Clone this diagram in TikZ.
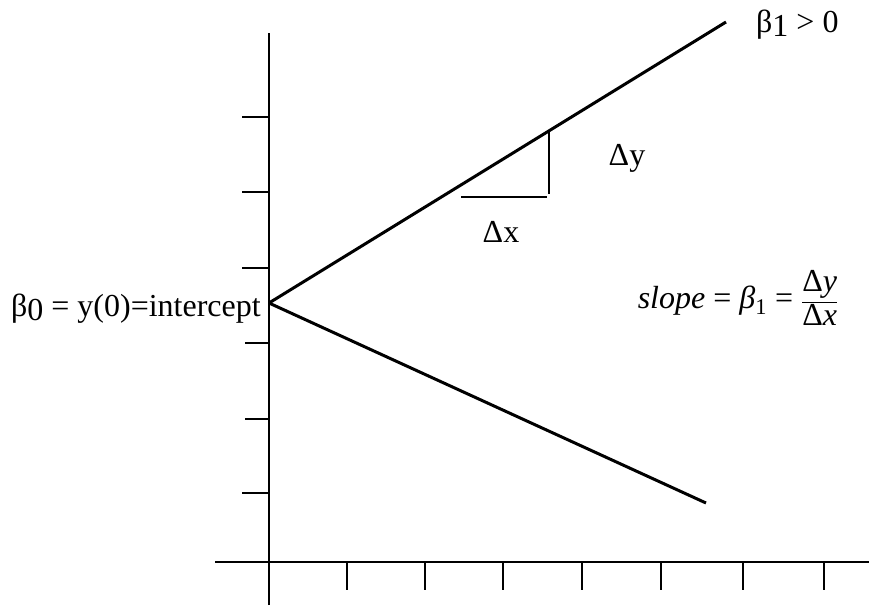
\documentclass[tikz,border=0pt]{standalone}
\usepackage{fontspec}
\setmainfont{Liberation Serif}
\usetikzlibrary{positioning}

\begin{document}
\begin{tikzpicture}[
        x=1pt, y=-1pt,
        axisline/.style={
            line width=2.2pt
        },
        tickmark/.style={
            line width=2.2pt
        },
        slopeline/.style={
            line width=3pt
        },
        stepline/.style={
            line width=2.4pt
        },
        lbl/.style={
            inner sep=0pt,
            font=\fontsize{32}{35}\selectfont
        }
    ]
        \useasboundingbox (0,0) rectangle (869,608);

        % Axes
        \coordinate (o) at (269,562);
        \coordinate (ytop) at (269,33);
        \coordinate (ybot) at (269,605);
        \coordinate (xleft) at (215,562);
        \coordinate (xright) at (869,562);
        \draw[axisline] (ybot) -- (ytop);
        \draw[axisline] (xleft) -- (xright);

        % Ticks on the y axis
        \foreach \ty/\tl in {117/242,192/242,268/242,343/245,419/245,493/242}
            \draw[tickmark] (\tl,\ty) -- (269,\ty);
        % Ticks on the x axis
        \foreach \tx in {347,425,503,582,661,743,824}
            \draw[tickmark] (\tx,562) -- (\tx,590);

        % Lines through the intercept
        \coordinate (b0) at (269,303);
        \coordinate (upend) at (726,22);
        \coordinate (downend) at (706,503);
        \draw[slopeline] (b0) -- (upend);
        \draw[slopeline] (b0) -- (downend);

        % Rise and run
        \coordinate (rtop) at (549,132);
        \coordinate (rbot) at (549,194);
        \coordinate (runl) at (461,197);
        \coordinate (runr) at (547,197);
        \draw[stepline] (rtop) -- (rbot);
        \draw[stepline] (runl) -- (runr);

        % Labels
        \node[lbl, anchor=base west] (posslope) at (756,32)
            {β\raisebox{-0.3ex}{1} > 0};
        \node[lbl, anchor=base east] (icpt) at (261,316)
            {β\raisebox{-0.3ex}{0} = y(0)=intercept};
        \node[lbl] (dy) at (627,158) {Δy};
        \node[lbl] (dx) at (501,232) {Δx};
        \node[lbl] (slope) at (738,298)
            {\itshape slope \upshape{=} \itshape β\textsubscript{\upshape 1} {\upshape =}
            $\displaystyle\frac{\mbox{\upshape Δ\itshape y}}{\mbox{\upshape Δ\itshape x}}$};
\end{tikzpicture}
\end{document}
